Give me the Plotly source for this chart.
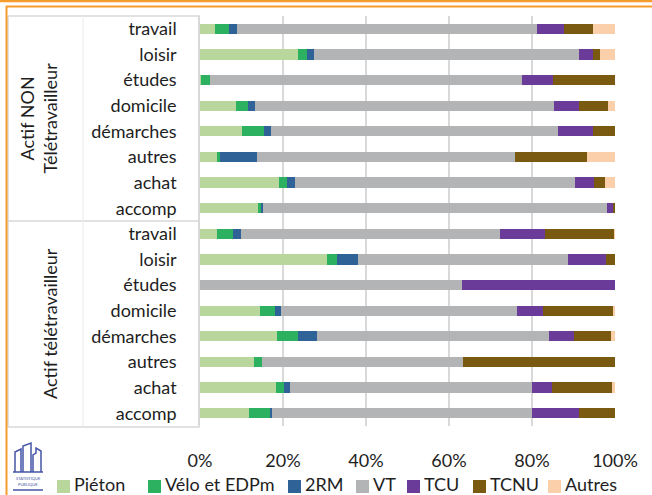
import plotly.graph_objects as go

categories = ["travail", "loisir", "études", "domicile", "démarches", "autres", "achat", "accomp",
              "travail", "loisir", "études", "domicile", "démarches", "autres", "achat", "accomp"]
groups = ["Actif NON<br>Télétravailleur", "Actif télétravailleur"]
series_names = ["Piéton", "Vélo et EDPm", "2RM", "VT", "TCU", "TCNU", "Autres"]
colors = ["#b9d69d", "#2bb15f", "#2f6397", "#b3b4b6", "#6a3b98", "#7a5911", "#fbcfa9"]

pieton = [3.6, 23.5, 0.3, 8.7, 10.1, 4.1, 19.0, 14.0,
          4.2, 30.5, 0.0, 14.5, 18.6, 13.0, 18.3, 11.9]
velo = [3.3, 2.4, 2.1, 2.9, 5.2, 0.7, 2.0, 0.9,
        3.8, 2.6, 0.0, 3.6, 4.9, 2.0, 1.9, 5.0]
rm2 = [1.9, 1.6, 0.0, 1.7, 1.7, 9.0, 1.9, 0.3,
       1.9, 4.9, 0.0, 1.4, 4.8, 0.0, 1.6, 0.4]
vt = [72.4, 63.9, 75.1, 71.9, 69.3, 62.2, 67.4, 82.9,
      62.5, 50.7, 63.2, 56.8, 55.8, 48.3, 58.1, 62.8]
tcu = [6.6, 3.4, 7.6, 6.2, 8.5, 0.0, 4.7, 1.5,
       10.8, 9.1, 36.8, 6.4, 5.9, 0.0, 4.8, 11.3]
tcnu = [6.9, 1.6, 14.9, 6.8, 5.2, 17.3, 2.6, 0.4,
        16.6, 2.2, 0.0, 16.7, 9.0, 36.7, 14.6, 8.6]
autres = [5.3, 3.6, 0.0, 1.8, 0.0, 6.7, 2.4, 0.0,
          0.2, 0.0, 0.0, 0.6, 1.0, 0.0, 0.7, 0.0]
x_ticks = [0, 20, 40, 60, 80, 100]

series = [pieton, velo, rm2, vt, tcu, tcnu, autres]
ypos = list(range(len(categories)))

FONT = "Lato"
TXT = "#1e1e1e"
fig = go.Figure()
for name, vals, col in zip(series_names, series, colors):
    fig.add_trace(go.Bar(
        y=ypos, x=vals, orientation="h", name=name,
        marker=dict(color=col, line=dict(width=0)), width=0.4,
        hoverinfo="x+name", showlegend=False))

# pixel -> paper helpers (plot area x 200..615, y 16..426)
L, R, T, B = 200, 615, 16, 426
def px(x):
    return (x - L) / (R - L)
def py(y):
    return (B - y) / (B - T)

shapes = []
grey = "#d9d9d9"
def line(x0, y0, x1, y1, color, w):
    shapes.append(dict(type="line", xref="paper", yref="paper",
                       x0=px(x0), y0=py(y0), x1=px(x1), y1=py(y1),
                       line=dict(color=color, width=w), layer="above"))

# table lines at left
line(8, 16, 200, 16, grey, 1.5)
line(8, 221, 200, 221, grey, 1.5)
line(8, 427, 200, 427, grey, 1.5)
line(8, 16, 8, 427, grey, 1.5)
line(83, 16, 83, 427, "#ececec", 1)
# orange frame
orange = "#f69c2c"
line(0, 1, 652, 1, orange, 2.5)
line(6, 6.5, 652, 6.5, orange, 2)
line(6.5, 6, 6.5, 500, orange, 2)

# logo
logo_col = "#4656a6"
def path(points):
    s = ""
    for i, (x, y) in enumerate(points):
        s += ("M" if i == 0 else "L") + f" {px(x)},{py(y)} "
    return s
logo_paths = [
    [(15, 472), (15, 452), (21, 449), (21, 472)],
    [(23, 472), (23, 446), (31, 443), (31, 472)],
    [(33, 472), (33, 455), (36, 453), (36, 448), (41, 451), (41, 472)],
]
for pts in logo_paths:
    shapes.append(dict(type="path", xref="paper", yref="paper", path=path(pts),
                       line=dict(color=logo_col, width=1.5)))
line(13, 472, 43, 472, logo_col, 1.5)
line(13, 490, 43, 490, logo_col, 1.5)

annotations = [
    dict(text=groups[0], textangle=-90, x=px(38), y=py(118.5), xref="paper", yref="paper",
         showarrow=False, font=dict(family=FONT, size=18, color=TXT),
         xanchor="center", yanchor="middle"),
    dict(text=groups[1], textangle=-90, x=px(50), y=py(324), xref="paper", yref="paper",
         showarrow=False, font=dict(family=FONT, size=18, color=TXT),
         xanchor="center", yanchor="middle"),
    dict(text="STATISTIQUE", x=px(28), y=py(478.5), xref="paper", yref="paper",
         showarrow=False, font=dict(family=FONT, size=4, color=logo_col),
         xanchor="center", yanchor="middle"),
    dict(text="PUBLIQUE", x=px(28), y=py(484.5), xref="paper", yref="paper",
         showarrow=False, font=dict(family=FONT, size=4, color=logo_col),
         xanchor="center", yanchor="middle"),
]

# legend drawn by hand (one row, as in the reference)
legend_sq_x = [57, 148, 288, 356, 407, 473, 548]
for name, col, sx in zip(series_names, colors, legend_sq_x):
    shapes.append(dict(type="rect", xref="paper", yref="paper",
                       x0=px(sx), x1=px(sx + 13), y0=py(493), y1=py(480),
                       fillcolor=col, line=dict(width=0)))
    annotations.append(dict(text=name, x=px(sx + 16), y=py(484.5), xref="paper", yref="paper",
                            showarrow=False, xanchor="left", yanchor="middle",
                            borderpad=0,
                            font=dict(family=FONT, size=18, color=TXT)))

fig.update_layout(
    width=652, height=495, autosize=False,
    margin=dict(l=L, r=652 - R, t=T, b=495 - B, autoexpand=False),
    paper_bgcolor="white", plot_bgcolor="white",
    barmode="stack",
    font=dict(family=FONT, size=18, color=TXT),
    showlegend=False,
    xaxis=dict(range=[0, 100], tickvals=x_ticks, ticktext=[f"{v}%" for v in x_ticks],
               showgrid=True, gridcolor=grey, gridwidth=1.5, zeroline=False,
               showline=False, ticks="", ticklabelstandoff=22,
               tickfont=dict(family=FONT, size=18, color=TXT), fixedrange=True),
    yaxis=dict(tickvals=ypos, ticktext=categories, range=[len(categories) - 0.5, -0.5],
               showgrid=False, zeroline=False, showline=True, linecolor=grey, linewidth=1.5,
               ticks="", ticklabelstandoff=18,
               tickfont=dict(family=FONT, size=18, color=TXT), fixedrange=True),
    shapes=shapes, annotations=annotations,
)

fig.write_html("out.html", config={"displayModeBar": False},
               post_script="document.body.style.margin='0';document.body.style.overflow='hidden';")
